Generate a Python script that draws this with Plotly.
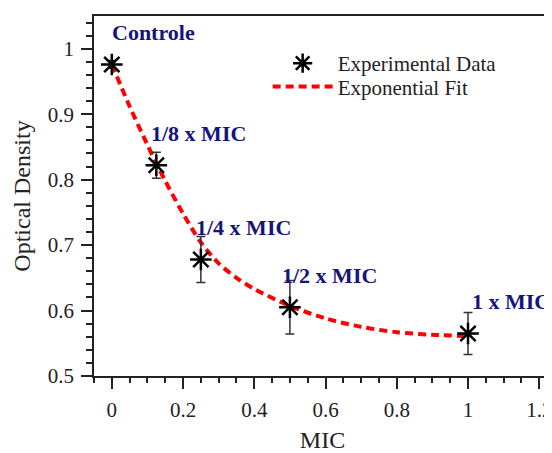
import plotly.graph_objects as go

# ---- data ----
mic = [0.0, 0.125, 0.25, 0.5, 1.0]
od = [0.976, 0.822, 0.678, 0.605, 0.565]
od_err = [0.006, 0.020, 0.035, 0.041, 0.032]
point_labels = ["Controle", "1/8 x MIC", "1/4 x MIC", "1/2 x MIC", "1 x MIC"]
label_dx = [-2, -7, -7, -10, 2]

fit_x = [0.0, 0.05, 0.1, 0.125, 0.15, 0.2, 0.25, 0.3, 0.35, 0.4, 0.5, 0.6, 0.7, 0.8, 0.9, 1.0]
fit_y = [0.976, 0.912, 0.853, 0.825, 0.798, 0.748, 0.704, 0.672, 0.650, 0.633, 0.607,
         0.588, 0.575, 0.567, 0.563, 0.561]

x_ticks = [0, 0.2, 0.4, 0.6, 0.8, 1, 1.2]
x_ticktext = ["0", "0.2", "0.4", "0.6", "0.8", "1", "1.2"]
y_ticks = [0.5, 0.6, 0.7, 0.8, 0.9, 1]
y_ticktext = ["0.5", "0.6", "0.7", "0.8", "0.9", "1"]

SERIF = "Liberation Serif, Times New Roman, serif"
INK = "#222222"
NAVY = "#15157a"
XR = [-0.05, 1.233]
YR = [0.5, 1.05]

fig = go.Figure()
fig.add_trace(go.Scatter(
    x=fit_x, y=fit_y, mode="lines", name="Exponential Fit",
    line=dict(color="#ff0000", width=4, dash="8px,5px", shape="spline", smoothing=0.8),
    legend="legend2",
))
fig.add_trace(go.Scatter(
    x=mic, y=od, mode="markers", name="Experimental Data",
    marker=dict(symbol="asterisk-open", size=18, color="black",
                line=dict(color="black", width=2.5)),
    error_y=dict(type="data", array=od_err, visible=True, color="#333333",
                 thickness=1.5, width=4.5),
    legend="legend",
))

for xv, yv, txt, dx in zip(mic, od, point_labels, label_dx):
    fig.add_annotation(
        x=xv, y=yv, text=txt, showarrow=False, xanchor="left", yanchor="middle",
        xshift=dx, yshift=32,
        font=dict(family=SERIF, size=22, color=NAVY, weight="bold"),
    )

axis_common = dict(
    showgrid=False, zeroline=False, showline=True, linecolor=INK, linewidth=1.5,
    tickcolor=INK, tickwidth=1.5, ticklen=11, automargin=False,
    tickfont=dict(family=SERIF, size=21, color=INK),
    ticklabeloverflow="allow",
)

legend_common = dict(
    xanchor="left", yanchor="middle",
    bgcolor="rgba(0,0,0,0)", borderwidth=0,
    font=dict(family=SERIF, size=21, color=INK),
    itemwidth=60,
)

# the page body adds an 8px offset, so the figure is 8px smaller than the window
fig.update_layout(
    width=544, height=445,
    margin=dict(l=86, r=1, t=8, b=77),
    paper_bgcolor="white", plot_bgcolor="white",
    showlegend=True,
    legend=dict(**legend_common, x=0.38, y=0.868),
    legend2=dict(**legend_common, x=0.38, y=0.803),
    xaxis=dict(
        **axis_common, range=XR, ticks="outside", mirror=True,
        tickvals=x_ticks, ticktext=x_ticktext,
        minor=dict(dtick=0.05, ticks="outside", ticklen=5, tickcolor=INK, tickwidth=1.5),
        title=dict(text="MIC", font=dict(family=SERIF, size=24, color=INK), standoff=12),
        ticklabelstandoff=3,
    ),
    yaxis=dict(
        **axis_common, range=YR, ticks="outside", mirror=True,
        tickvals=y_ticks, ticktext=y_ticktext,
        minor=dict(dtick=0.02, tick0=0.5, ticks="outside", ticklen=6, tickcolor=INK, tickwidth=1.5),
        title=dict(text="Optical Density", font=dict(family=SERIF, size=24, color=INK), standoff=10),
        ticklabelstandoff=3,
    ),
    xaxis2=dict(
        overlaying="x", side="top", anchor="y", range=XR, showgrid=False, zeroline=False,
        showline=False, ticks="inside", ticklen=11, tickwidth=1.5, tickcolor=INK,
        tickvals=x_ticks, showticklabels=False, automargin=False,
        minor=dict(dtick=0.05, ticks="inside", ticklen=5, tickcolor=INK, tickwidth=1.5),
    ),
    yaxis2=dict(
        overlaying="y", side="right", anchor="x", range=YR, showgrid=False, zeroline=False,
        showline=False, ticks="inside", ticklen=11, tickwidth=1.5, tickcolor=INK,
        tickvals=y_ticks, showticklabels=False, automargin=False,
        minor=dict(dtick=0.02, tick0=0.5, ticks="inside", ticklen=6, tickcolor=INK, tickwidth=1.5),
    ),
)

fig.write_html("out.html")
